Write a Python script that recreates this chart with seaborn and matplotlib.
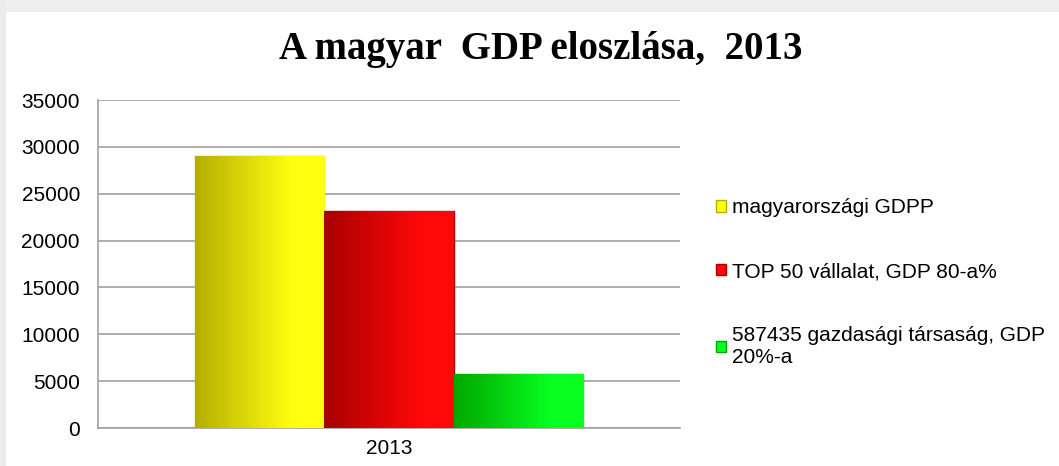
import textwrap
import numpy as np
import pandas as pd
import matplotlib
matplotlib.use("Agg")
import matplotlib.pyplot as plt
from matplotlib.patches import Patch, Rectangle
from matplotlib.colors import LinearSegmentedColormap
import seaborn as sns

# data
years = ["2013"]
series = ["magyarországi GDPP",
          "TOP 50 vállalat, GDP 80-a%",
          "587435 gazdasági társaság, GDP 20%-a"]
values = [29000, 23200, 5800]
dark_colors = ["#b5ae00", "#a80000", "#00a800"]
bright_colors = ["#ffff10", "#ff0808", "#08ff20"]
yticks = [0, 5000, 10000, 15000, 20000, 25000, 30000, 35000]

df = pd.DataFrame({"year": years * len(series), "series": series, "value": values})

sns.set_style("white")
plt.rcParams["font.family"] = ["Liberation Sans", "DejaVu Sans"]
plt.rcParams["text.color"] = "black"

fig = plt.figure(figsize=(10.59, 4.66), dpi=100)
fig.patch.set_facecolor("white")
# light page-shadow frame at top and left
fig.patches.append(Rectangle((0, 1 - 12 / 466), 1, 12 / 466, transform=fig.transFigure,
                             facecolor="#efefef", edgecolor="none", zorder=0))
fig.patches.append(Rectangle((0, 0), 6 / 1059, 1, transform=fig.transFigure,
                             facecolor="#ececec", edgecolor="none", zorder=0))

ax = fig.add_axes([98 / 1059, 38 / 466, 582 / 1059, 328 / 466])
sns.barplot(data=df, x="year", y="value", hue="series", palette=bright_colors,
            width=0.667, gap=0, legend=False, ax=ax, zorder=2)

# gradient fill for each bar (dark on the left, bright on the right)
for patch, dc, bc in zip(ax.patches, dark_colors, bright_colors):
    x0, y0 = patch.get_x(), patch.get_y()
    w, h = patch.get_width(), patch.get_height()
    cmap = LinearSegmentedColormap.from_list("g", [(0, dc), (0.75, bc), (1, bc)])
    grad = np.linspace(0, 1, 256).reshape(1, -1)
    im = ax.imshow(grad, cmap=cmap, aspect="auto", extent=(x0, x0 + w, y0, y0 + h),
                   zorder=3, interpolation="bicubic")
    im.set_clip_path(patch)
    patch.set_edgecolor(dc)
    patch.set_linewidth(1.0)

ax.set_xlim(-0.5, 0.5)
ax.set_ylim(0, 35000)
ax.set_yticks(yticks)
ax.set_yticklabels([str(t) for t in yticks])
ax.yaxis.grid(True, color="#a0a0a0", linewidth=1.2, zorder=0)
ax.set_axisbelow(True)
ax.set_xlabel("")
ax.set_ylabel("")
ax.tick_params(axis="both", length=0, labelsize=15, colors="black")
ax.tick_params(axis="y", pad=13)
ax.tick_params(axis="x", pad=8)
for side in ["top", "right"]:
    ax.spines[side].set_visible(False)
for side in ["left", "bottom"]:
    ax.spines[side].set_color("#a0a0a0")
    ax.spines[side].set_linewidth(1.2)

fig.text(541 / 1059, 1 - 50 / 466, "A magyar  GDP eloszlása,  2013", ha="center", va="center",
         fontsize=28, fontweight="bold", color="black",
         family=["Liberation Serif", "DejaVu Serif"])

handles = [Patch(facecolor=bc, edgecolor=dc) for dc, bc in zip(dark_colors, bright_colors)]
labels = [textwrap.fill(s, 30) for s in series]
fig.legend(handles, labels, loc="upper left", bbox_to_anchor=(708 / 1059, 1 - 190 / 466),
           frameon=False, fontsize=15, labelspacing=2.15, handlelength=0.45,
           handleheight=0.45, handletextpad=0.3, borderaxespad=0, labelcolor="black")

fig.savefig("out.png", dpi=100)
